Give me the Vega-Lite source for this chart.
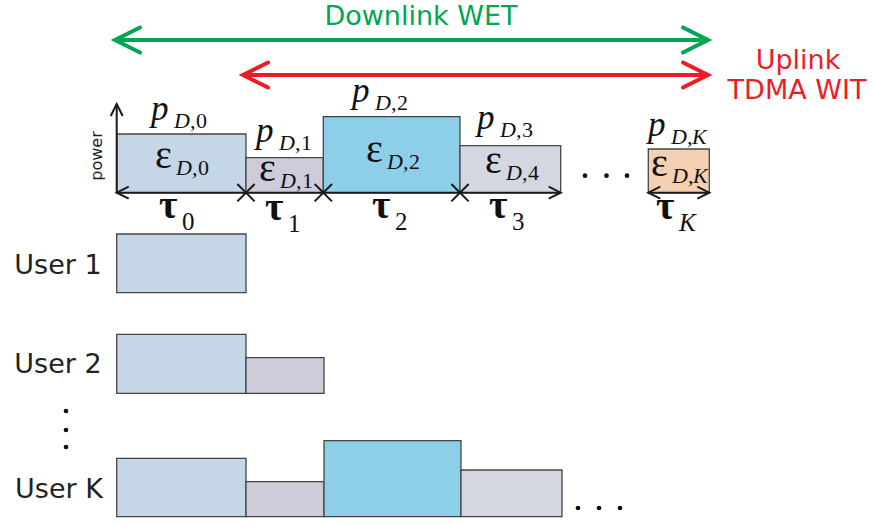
{
  "$schema": "https://vega.github.io/schema/vega-lite/v6.json",
  "autosize": {"type": "fit", "contains": "padding"},
  "width": 873,
  "height": 525,
  "padding": 0,
  "background": "white",
  "config": {"view": {"stroke": null}},
  "datasets": {
    "rects": [
      {"x": 116.7, "x2": 246, "y": 134, "y2": 192.7, "kind": "0"},
      {"x": 246, "x2": 323.3, "y": 157.7, "y2": 192.7, "kind": "1"},
      {"x": 323.3, "x2": 460, "y": 116.7, "y2": 192.7, "kind": "2"},
      {"x": 460, "x2": 560.7, "y": 145.7, "y2": 192.7, "kind": "3"},
      {"x": 648.3, "x2": 709.3, "y": 149, "y2": 192.7, "kind": "K"},
      {"x": 116.7, "x2": 246, "y": 234, "y2": 292.7, "kind": "0"},
      {"x": 116.7, "x2": 246, "y": 334.3, "y2": 393.3, "kind": "0"},
      {"x": 246, "x2": 324, "y": 357.7, "y2": 393.3, "kind": "1"},
      {"x": 116.7, "x2": 246, "y": 458.3, "y2": 516.7, "kind": "0"},
      {"x": 246, "x2": 324, "y": 481.7, "y2": 516.7, "kind": "1"},
      {"x": 324, "x2": 461, "y": 440.7, "y2": 516.7, "kind": "2"},
      {"x": 461, "x2": 562, "y": 470, "y2": 516.7, "kind": "3"}
    ],
    "lines": [
      {"x": 115, "x2": 708, "y": 40, "y2": 40, "kind": "downlink"},
      {"x": 243, "x2": 708, "y": 75, "y2": 75, "kind": "uplink"},
      {"x": 116.7, "x2": 560.7, "y": 192.7, "y2": 192.7, "kind": "time"},
      {"x": 648.3, "x2": 709.3, "y": 192.7, "y2": 192.7, "kind": "time"},
      {"x": 116.7, "x2": 116.7, "y": 192.7, "y2": 104, "kind": "time"}
    ],
    "heads": [
      {"x": 115, "y": 40, "angle": 180, "kind": "downlink"},
      {"x": 708, "y": 40, "angle": 0, "kind": "downlink"},
      {"x": 243, "y": 75, "angle": 180, "kind": "uplink"},
      {"x": 708, "y": 75, "angle": 0, "kind": "uplink"},
      {"x": 116.7, "y": 192.7, "angle": 180, "kind": "time"},
      {"x": 560.7, "y": 192.7, "angle": 0, "kind": "time"},
      {"x": 648.3, "y": 192.7, "angle": 180, "kind": "time"},
      {"x": 709.3, "y": 192.7, "angle": 0, "kind": "time"},
      {"x": 116.7, "y": 104, "angle": 270, "kind": "time"}
    ],
    "crosses": [
      {"x": 246, "y": 192.7},
      {"x": 323.3, "y": 192.7},
      {"x": 460, "y": 192.7}
    ],
    "dots": [
      {"x": 585, "y": 175.7},
      {"x": 606.5, "y": 175.7},
      {"x": 627, "y": 175.7},
      {"x": 578, "y": 508},
      {"x": 599, "y": 508},
      {"x": 620, "y": 508},
      {"x": 66, "y": 411},
      {"x": 66, "y": 430},
      {"x": 66, "y": 447}
    ],
    "titles": [
      {"label": "Downlink WET", "x": 421, "y": 17, "kind": "downlink"},
      {"label": "Uplink", "x": 798, "y": 61, "kind": "uplink"},
      {"label": "TDMA WIT", "x": 797, "y": 91, "kind": "uplink"}
    ],
    "power": [{"label": "power", "x": 97, "y": 156}],
    "users": [
      {"label": "User 1", "x": 58, "y": 266},
      {"label": "User 2", "x": 58, "y": 365},
      {"label": "User K", "x": 59, "y": 490}
    ],
    "p": [
      {"sym": "p", "x": 151, "y": 120, "lead": "D,", "idx": "0"},
      {"sym": "p", "x": 256, "y": 142, "lead": "D,", "idx": "1"},
      {"sym": "p", "x": 352, "y": 102, "lead": "D,", "idx": "2"},
      {"sym": "p", "x": 477, "y": 129, "lead": "D,", "idx": "3"},
      {"sym": "p", "x": 648, "y": 136, "lead": "D,", "idx": "K"}
    ],
    "eps": [
      {"sym": "ε", "x": 155, "y": 168, "lead": "D,", "idx": "0"},
      {"sym": "ε", "x": 259, "y": 181, "lead": "D,", "idx": "1"},
      {"sym": "ε", "x": 366, "y": 162, "lead": "D,", "idx": "2"},
      {"sym": "ε", "x": 485, "y": 173, "lead": "D,", "idx": "4"},
      {"sym": "ε", "x": 651, "y": 176, "lead": "D,", "idx": "K"}
    ],
    "tau": [
      {"sym": "τ", "x": 159, "y": 218, "idx": "0"},
      {"sym": "τ", "x": 265, "y": 220, "idx": "1"},
      {"sym": "τ", "x": 372, "y": 218, "idx": "2"},
      {"sym": "τ", "x": 489, "y": 218, "idx": "3"},
      {"sym": "τ", "x": 656, "y": 219, "idx": "K"}
    ]
  },
  "encoding": {
    "x": {"field": "x", "type": "quantitative", "scale": {"domain": [0, 873], "nice": false, "zero": false}, "axis": null},
    "y": {"field": "y", "type": "quantitative", "scale": {"domain": [0, 525], "nice": false, "zero": false, "reverse": true}, "axis": null}
  },
  "layer": [
    {
      "data": {"name": "rects"},
      "mark": {"type": "rect", "stroke": "#454545", "strokeWidth": 1.3},
      "encoding": {
        "x2": {"field": "x2"},
        "y2": {"field": "y2"},
        "fill": {"field": "kind", "type": "nominal", "scale": {"domain": ["0", "1", "2", "3", "K"], "range": ["#c5d6e6", "#cecbdb", "#8dcfe9", "#d4d7df", "#f4cfb1"]}, "legend": null}
      }
    },
    {
      "data": {"name": "lines"},
      "transform": [{"filter": "datum.kind !== 'time'"}],
      "mark": {"type": "rule", "strokeWidth": 4},
      "encoding": {
        "x2": {"field": "x2"},
        "y2": {"field": "y2"},
        "stroke": {"field": "kind", "type": "nominal", "scale": {"domain": ["downlink", "uplink", "time"], "range": ["#00a651", "#ed1c24", "#1a1a1a"]}, "legend": null}
      }
    },
    {
      "data": {"name": "lines"},
      "transform": [{"filter": "datum.kind === 'time'"}],
      "mark": {"type": "rule", "strokeWidth": 2, "color": "#1a1a1a"},
      "encoding": {
        "x2": {"field": "x2"},
        "y2": {"field": "y2"}
      }
    },
    {
      "data": {"name": "heads"},
      "transform": [{"filter": "datum.kind !== 'time'"}],
      "mark": {"type": "point", "shape": "M-2,-1L0,0L-2,1", "size": 625, "filled": false, "strokeWidth": 4, "strokeCap": "round", "opacity": 1},
      "encoding": {
        "angle": {"field": "angle", "type": "quantitative", "scale": null},
        "stroke": {"field": "kind", "type": "nominal", "legend": null}
      }
    },
    {
      "data": {"name": "heads"},
      "transform": [{"filter": "datum.kind === 'time'"}],
      "mark": {"type": "point", "shape": "M-2,-1L0,0L-2,1", "size": 144, "filled": false, "strokeWidth": 2, "color": "#1a1a1a", "opacity": 1},
      "encoding": {
        "angle": {"field": "angle", "type": "quantitative", "scale": null}
      }
    },
    {
      "data": {"name": "crosses"},
      "mark": {"type": "point", "shape": "M-1,-1L1,1M-1,1L1,-1", "size": 300, "filled": false, "strokeWidth": 2, "color": "#1a1a1a", "opacity": 1}
    },
    {
      "data": {"name": "dots"},
      "mark": {"type": "point", "shape": "circle", "size": 22, "filled": true, "color": "#111111", "opacity": 1}
    },
    {
      "data": {"name": "titles"},
      "mark": {"type": "text", "font": "DejaVu Sans", "fontSize": 27, "align": "center", "baseline": "middle"},
      "encoding": {
        "text": {"field": "label"},
        "color": {"field": "kind", "type": "nominal", "scale": {"domain": ["downlink", "uplink"], "range": ["#00a651", "#ed1c24"]}, "legend": null}
      }
    },
    {
      "data": {"name": "power"},
      "mark": {"type": "text", "font": "DejaVu Sans", "fontSize": 16, "angle": 270, "align": "center", "baseline": "middle", "color": "#222222"},
      "encoding": {"text": {"field": "label"}}
    },
    {
      "data": {"name": "users"},
      "mark": {"type": "text", "font": "DejaVu Sans", "fontSize": 27, "align": "center", "baseline": "middle", "color": "#222222"},
      "encoding": {"text": {"field": "label"}}
    },
    {
      "data": {"name": "p"},
      "mark": {"type": "text", "font": "Liberation Serif", "fontStyle": "italic", "fontSize": 35, "align": "left", "baseline": "alphabetic", "color": "#111111"},
      "encoding": {"text": {"field": "sym"}}
    },
    {
      "data": {"name": "p"},
      "mark": {"type": "text", "font": "Liberation Serif", "fontStyle": "italic", "fontSize": 22, "align": "left", "baseline": "alphabetic", "dx": 23, "dy": 8, "color": "#111111"},
      "encoding": {"text": {"field": "lead"}}
    },
    {
      "data": {"name": "p"},
      "transform": [{"filter": "datum.idx !== 'K'"}],
      "mark": {"type": "text", "font": "Liberation Serif", "fontSize": 22, "align": "left", "baseline": "alphabetic", "dx": 45, "dy": 8, "color": "#111111"},
      "encoding": {"text": {"field": "idx"}}
    },
    {
      "data": {"name": "p"},
      "transform": [{"filter": "datum.idx === 'K'"}],
      "mark": {"type": "text", "font": "Liberation Serif", "fontStyle": "italic", "fontSize": 22, "align": "left", "baseline": "alphabetic", "dx": 44, "dy": 8, "color": "#111111"},
      "encoding": {"text": {"field": "idx"}}
    },
    {
      "data": {"name": "eps"},
      "mark": {"type": "text", "font": "Liberation Serif", "fontSize": 40, "align": "left", "baseline": "alphabetic", "color": "#111111"},
      "encoding": {"text": {"field": "sym"}}
    },
    {
      "data": {"name": "eps"},
      "mark": {"type": "text", "font": "Liberation Serif", "fontStyle": "italic", "fontSize": 22, "align": "left", "baseline": "alphabetic", "dx": 21, "dy": 7, "color": "#111111"},
      "encoding": {"text": {"field": "lead"}}
    },
    {
      "data": {"name": "eps"},
      "transform": [{"filter": "datum.idx !== 'K'"}],
      "mark": {"type": "text", "font": "Liberation Serif", "fontSize": 22, "align": "left", "baseline": "alphabetic", "dx": 43, "dy": 7, "color": "#111111"},
      "encoding": {"text": {"field": "idx"}}
    },
    {
      "data": {"name": "eps"},
      "transform": [{"filter": "datum.idx === 'K'"}],
      "mark": {"type": "text", "font": "Liberation Serif", "fontStyle": "italic", "fontSize": 22, "align": "left", "baseline": "alphabetic", "dx": 42, "dy": 7, "color": "#111111"},
      "encoding": {"text": {"field": "idx"}}
    },
    {
      "data": {"name": "tau"},
      "mark": {"type": "text", "font": "Liberation Serif", "fontWeight": "bold", "fontSize": 40, "align": "left", "baseline": "alphabetic", "color": "#111111"},
      "encoding": {"text": {"field": "sym"}}
    },
    {
      "data": {"name": "tau"},
      "transform": [{"filter": "datum.idx !== 'K'"}],
      "mark": {"type": "text", "font": "Liberation Serif", "fontSize": 25, "align": "left", "baseline": "alphabetic", "dx": 23, "dy": 12, "color": "#111111"},
      "encoding": {"text": {"field": "idx"}}
    },
    {
      "data": {"name": "tau"},
      "transform": [{"filter": "datum.idx === 'K'"}],
      "mark": {"type": "text", "font": "Liberation Serif", "fontStyle": "italic", "fontSize": 25, "align": "left", "baseline": "alphabetic", "dx": 23, "dy": 12, "color": "#111111"},
      "encoding": {"text": {"field": "idx"}}
    }
  ]
}
